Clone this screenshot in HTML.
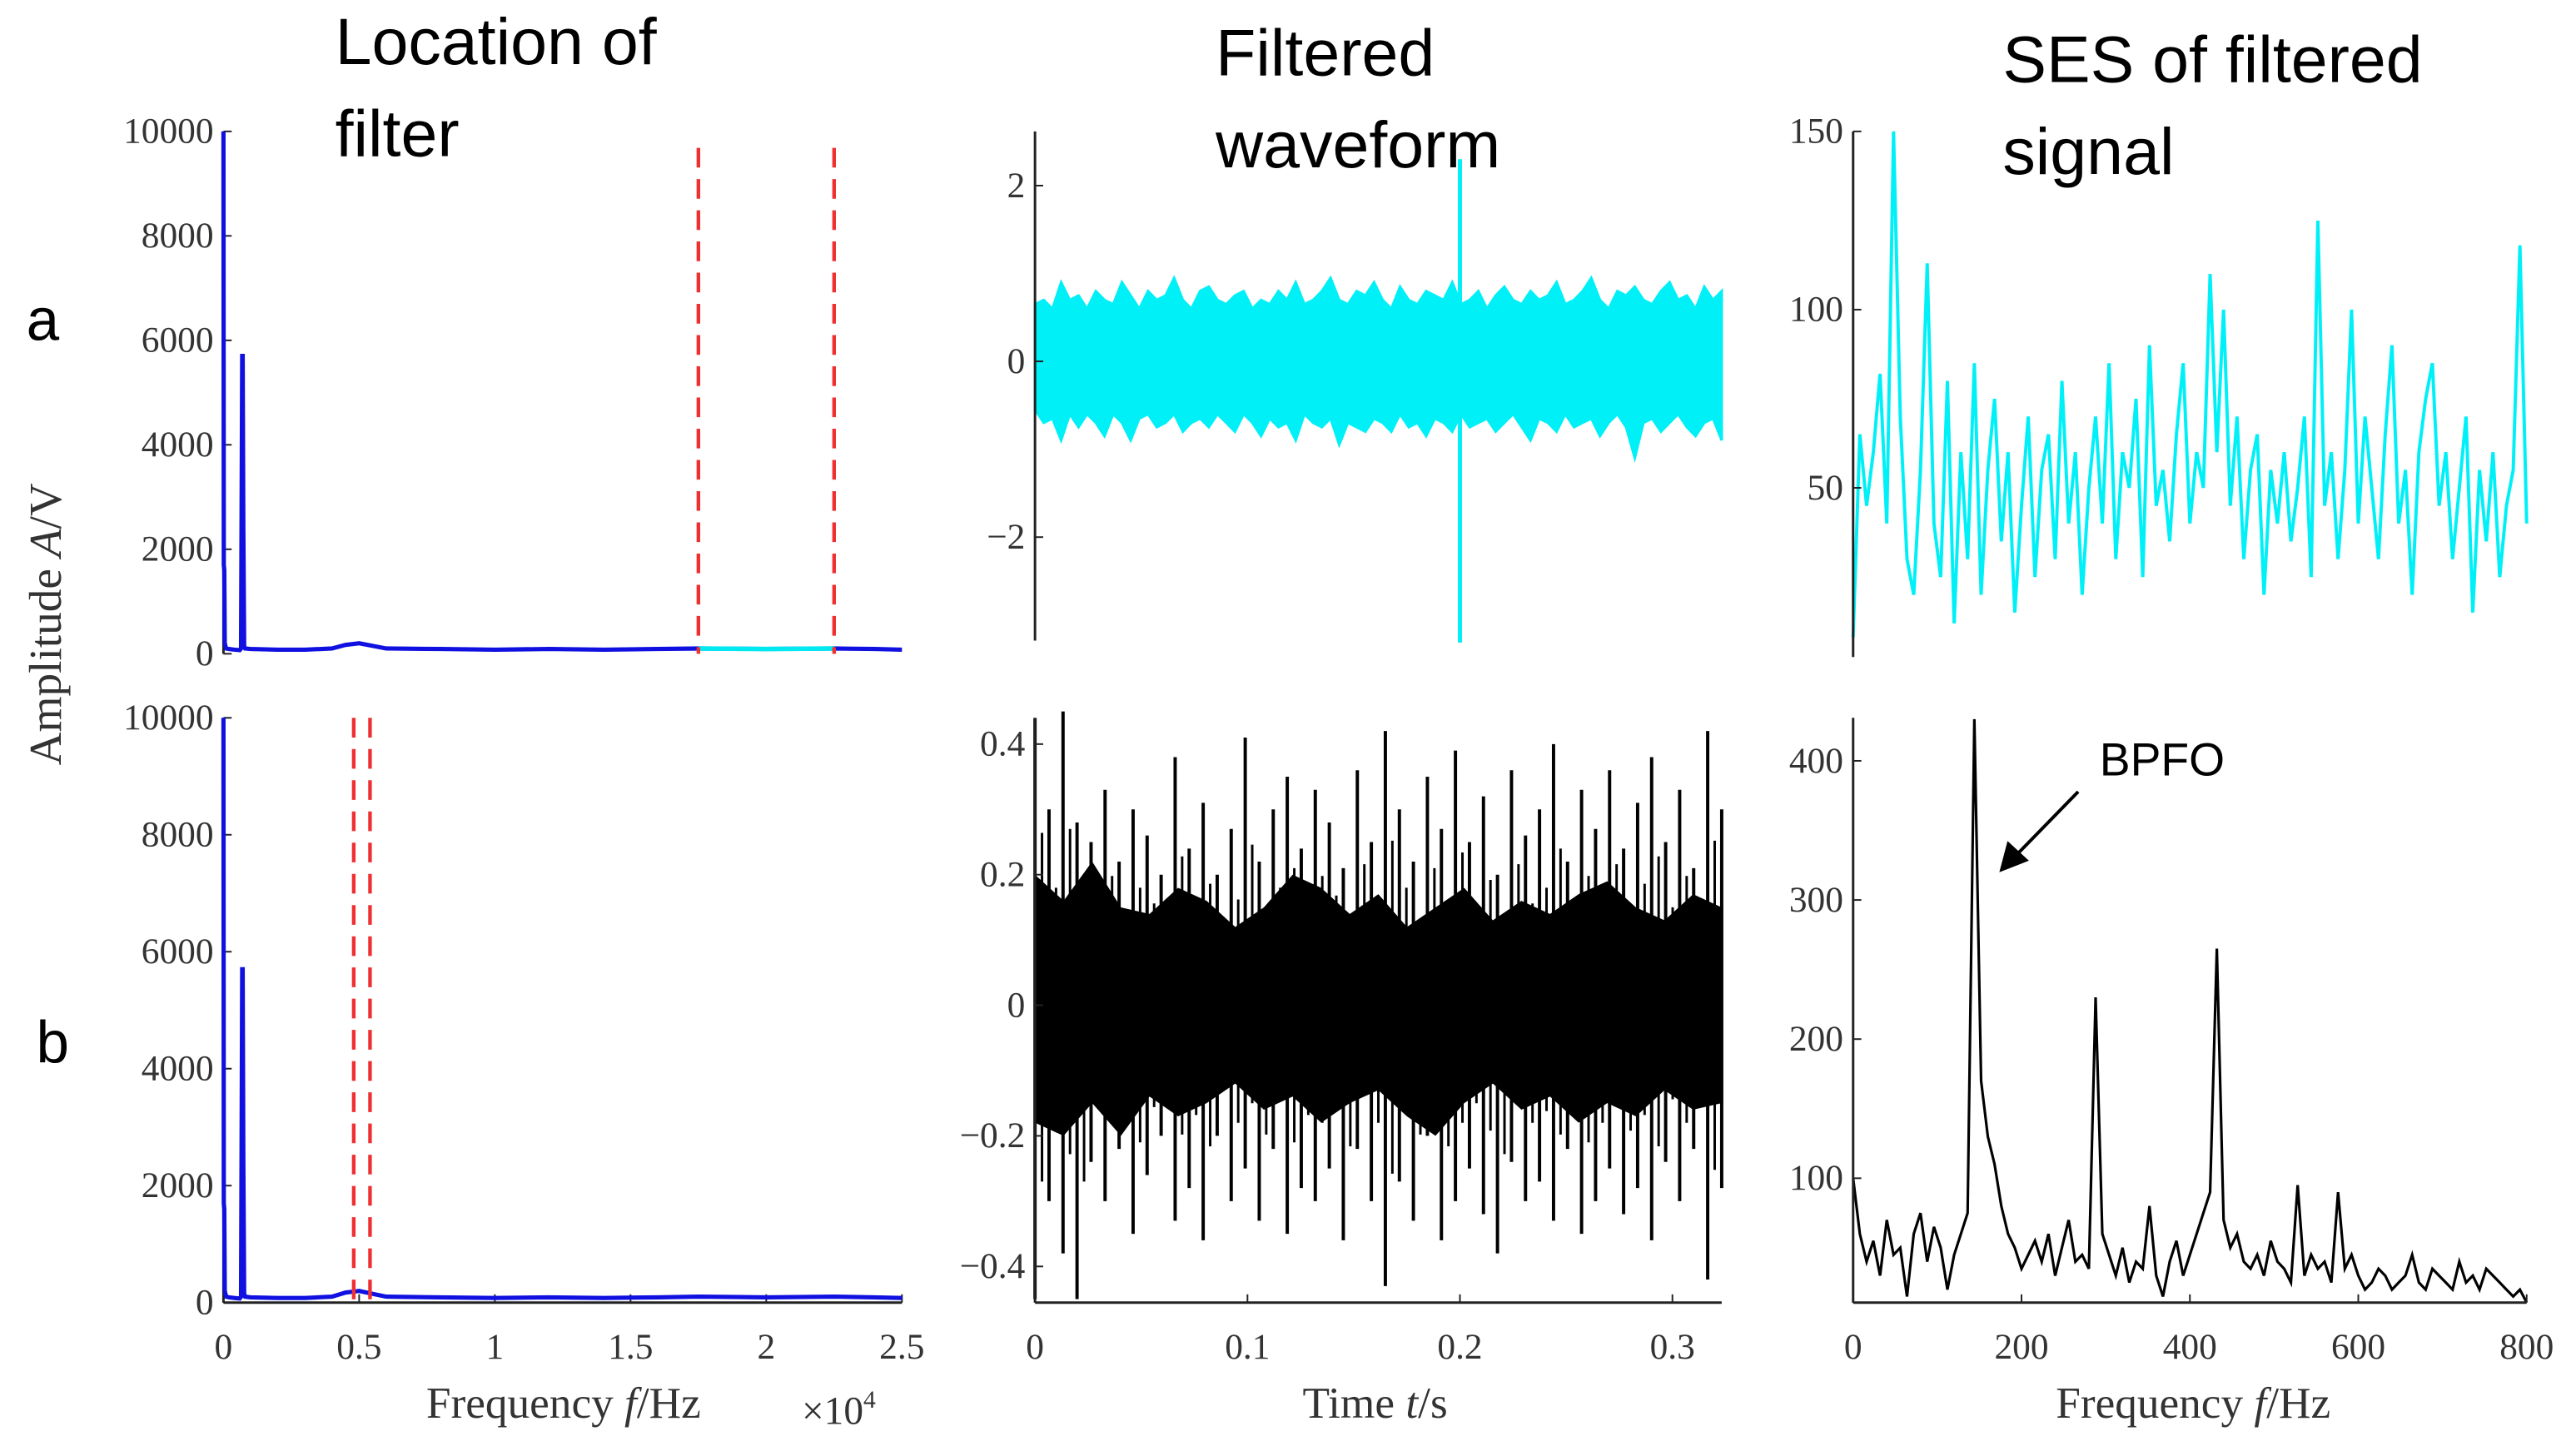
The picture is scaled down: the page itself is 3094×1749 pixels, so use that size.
<!DOCTYPE html>
<html><head><meta charset="utf-8"><style>
html,body{margin:0;padding:0;background:#fff;}
svg{display:block;}
.tk{font-family:"Liberation Serif",serif;font-size:22px;fill:#333;}
.tt{font-family:"Liberation Sans",sans-serif;font-size:40px;fill:#000;}
</style></head><body>
<svg id="fig" width="3094" height="1749" viewBox="0 0 1568 886.4" xmlns="http://www.w3.org/2000/svg">
<g id="static">
<text class="tt" x="204" y="39">Location of</text>
<text class="tt" x="204" y="95">filter</text>
<text class="tt" x="740" y="46">Filtered</text>
<text class="tt" x="740" y="102">waveform</text>
<text class="tt" x="1219" y="50">SES of filtered</text>
<text class="tt" x="1219" y="106">signal</text>
<text class="tt" x="16" y="207" style="font-size:36px">a</text>
<text class="tt" x="22" y="647" style="font-size:36px">b</text>
<text class="tk" style="font-size:28px" transform="translate(37,380) rotate(-90)" text-anchor="middle">Amplitude <tspan font-style="italic">A</tspan>/V</text>
<text class="tk" style="font-size:27px" x="343" y="863" text-anchor="middle">Frequency <tspan font-style="italic">f</tspan>/Hz</text>
<text class="tk" style="font-size:24px" x="488" y="867">×10<tspan font-size="15" dy="-10">4</tspan></text>
<text class="tk" style="font-size:27px" x="837" y="863" text-anchor="middle">Time <tspan font-style="italic">t</tspan>/s</text>
<text class="tk" style="font-size:27px" x="1335" y="863" text-anchor="middle">Frequency <tspan font-style="italic">f</tspan>/Hz</text>
<text class="tt" x="1278" y="472" style="font-size:28px">BPFO</text>
<line x1="1265" y1="482" x2="1224" y2="524" stroke="#000" stroke-width="2"/>
<polygon points="1217,531 1222,512 1235,524" fill="#000"/>
</g>
<g id="plots"></g>
</svg>
<script>
// ---- data ----
const specF=[0,15,30,50,70,100,200,400,600,650,690,710,730,760,800,1000,2000,3000,4000,4500,5000,5500,6000,8000,10000,12000,14000,16000,17500,20000,22500,24000,25000];
const specA=[10000,1700,1600,200,150,100,90,80,70,100,5700,5700,2400,150,100,90,80,80,100,170,200,150,100,90,80,90,80,90,100,90,100,90,80];
const filterA=[17500,22500];
const filterB=[4800,5400];
const specTicks=[0,0.5,1,1.5,2,2.5];
const ampTicks=[0,2000,4000,6000,8000,10000];
const cyanUp=[0.65,0.7,0.6,0.9,0.7,0.75,0.6,0.8,0.7,0.65,0.9,0.75,0.6,0.8,0.7,0.75,0.95,0.7,0.6,0.8,0.85,0.7,0.65,0.75,0.8,0.6,0.7,0.65,0.8,0.7,0.9,0.65,0.7,0.8,0.95,0.7,0.65,0.8,0.75,0.9,0.7,0.6,0.85,0.7,0.65,0.8,0.75,0.7,0.9,0.65,0.7,0.8,0.6,0.75,0.85,0.7,0.65,0.8,0.7,0.75,0.9,0.65,0.7,0.8,0.95,0.7,0.6,0.8,0.75,0.85,0.7,0.65,0.8,0.9,0.7,0.75,0.6,0.85,0.7,0.8];
const cyanDn=[-0.55,-0.7,-0.65,-0.9,-0.6,-0.75,-0.6,-0.7,-0.85,-0.6,-0.7,-0.9,-0.65,-0.6,-0.75,-0.7,-0.6,-0.8,-0.7,-0.65,-0.75,-0.6,-0.7,-0.8,-0.6,-0.7,-0.85,-0.65,-0.75,-0.7,-0.9,-0.6,-0.7,-0.75,-0.65,-0.95,-0.7,-0.75,-0.8,-0.65,-0.7,-0.8,-0.6,-0.75,-0.7,-0.85,-0.65,-0.7,-0.8,-0.6,-0.75,-0.7,-0.65,-0.8,-0.7,-0.6,-0.75,-0.9,-0.65,-0.7,-0.8,-0.6,-0.75,-0.7,-0.65,-0.85,-0.7,-0.6,-0.75,-1.1,-0.7,-0.65,-0.8,-0.7,-0.6,-0.75,-0.85,-0.7,-0.65,-0.9];
const cyanSpikeT=[0.2];
const cyanSpikeUp=[2.3];
const cyanSpikeDn=[-3.2];
const blkUp=[0.44,0.3,0.45,0.28,0.25,0.33,0.22,0.3,0.26,0.2,0.38,0.24,0.31,0.2,0.27,0.41,0.22,0.3,0.35,0.24,0.33,0.28,0.21,0.36,0.25,0.42,0.3,0.22,0.35,0.27,0.39,0.25,0.32,0.2,0.36,0.26,0.3,0.4,0.22,0.33,0.27,0.36,0.24,0.31,0.38,0.25,0.33,0.21,0.42,0.3];
const blkDn=[-0.45,-0.3,-0.38,-0.45,-0.24,-0.3,-0.22,-0.35,-0.26,-0.2,-0.33,-0.28,-0.36,-0.2,-0.3,-0.25,-0.33,-0.22,-0.35,-0.28,-0.3,-0.25,-0.36,-0.22,-0.3,-0.43,-0.27,-0.33,-0.2,-0.36,-0.3,-0.25,-0.32,-0.38,-0.24,-0.3,-0.27,-0.33,-0.22,-0.35,-0.3,-0.25,-0.32,-0.28,-0.36,-0.24,-0.3,-0.22,-0.42,-0.28];
const blkCoreUp=[0.2,0.16,0.22,0.15,0.14,0.18,0.16,0.12,0.15,0.2,0.18,0.14,0.17,0.12,0.15,0.18,0.13,0.16,0.14,0.17,0.19,0.15,0.13,0.17,0.15];
const blkCoreDn=[-0.18,-0.2,-0.15,-0.2,-0.14,-0.17,-0.15,-0.12,-0.16,-0.14,-0.18,-0.15,-0.13,-0.17,-0.2,-0.15,-0.12,-0.16,-0.14,-0.18,-0.15,-0.17,-0.13,-0.16,-0.15];
const timeTicks=[0,0.1,0.2,0.3];
const waveATicks=[-2,0,2];
const waveBTicks=[-0.4,-0.2,0,0.2,0.4];
const sesA=[8,65,45,60,82,40,150,70,30,20,55,113,40,25,80,12,60,30,85,20,55,75,35,60,15,45,70,25,55,65,30,80,40,60,20,50,70,40,85,30,60,50,75,25,90,45,55,35,65,85,40,60,50,110,60,100,45,70,30,55,65,20,55,40,60,35,50,70,25,125,45,60,30,55,100,40,70,50,30,65,90,40,55,20,60,75,85,45,60,30,50,70,15,55,35,60,25,45,55,118,40];
const sesB=[100,60,40,55,30,70,45,50,15,60,75,40,65,50,20,45,60,75,430,170,130,110,80,60,50,35,45,55,40,60,30,50,70,40,45,35,230,60,45,30,50,25,40,35,80,30,15,40,55,30,45,60,75,90,265,70,50,60,40,35,45,30,55,40,35,25,95,30,45,35,40,25,90,35,45,30,20,25,35,30,20,25,30,45,25,20,35,30,25,20,40,25,30,20,35,30,25,20,15,20,10];
const sesFTicks=[0,200,400,600,800];
const sesATicks=[50,100,150];
const sesBTicks=[100,200,300,400];

// ---- scales ----
const NS='http://www.w3.org/2000/svg';
const G=document.getElementById('plots');
const xSpec=f=>136+f*(549-136)/25000;
const ySpecA=v=>398-v*318/10000;
const ySpecB=v=>793-v*356/10000;
const xT=t=>630+t*(1018-630)/0.3;
const yWA=v=>220-v*53.5;
const yWB=v=>612-v*397.5;
const xS=f=>1128+f*(1538-1128)/800;
const ySA=v=>297-(v-50)*2.17;
const ySB=v=>802-v*0.847;
function mk(tag,attrs,parent){const e=document.createElementNS(NS,tag);for(const k in attrs)e.setAttribute(k,attrs[k]);(parent||G).appendChild(e);return e;}
function pts(xs,ys){return xs.map((x,i)=>x.toFixed(1)+','+ys[i].toFixed(1)).join(' ');}
function yAxis(x,y0,y1,ticks,yf,fmt,name){
  const l=mk('line',{x1:x,y1:y0,x2:x,y2:y1,stroke:'#222','stroke-width':1.5});
  
  
  ticks.forEach(v=>{const y=yf(v);
    mk('line',{x1:x,y1:y,x2:x+5,y2:y,stroke:'#222','stroke-width':1});
    const t=mk('text',{x:x-6,y:y+7,'text-anchor':'end',class:'tk'});t.textContent=fmt(v);
    
    });
}
function xAxis(y,x0,x1,ticks,xf,fmt,name){
  const l=mk('line',{x1:x0,y1:y,x2:x1,y2:y,stroke:'#222','stroke-width':1.5});
  
  
  ticks.forEach(v=>{const x=xf(v);
    mk('line',{x1:x,y1:y,x2:x,y2:y-5,stroke:'#222','stroke-width':1});
    const t=mk('text',{x:x,y:y+34,'text-anchor':'middle',class:'tk'});t.textContent=fmt(v);
    
    });
}
const minus=v=>String(v).replace('-','\u2212');

// ---- panel 1: spectra ----
yAxis(136,80,398,ampTicks,ySpecA,String,'spectrum-a');
yAxis(136,437,793,ampTicks,ySpecB,String,'spectrum-b');
xAxis(793,136,549,specTicks,v=>xSpec(v*10000),String,'spectrum-b');
let p=mk('polyline',{points:pts(specF.map(xSpec),specA.map(ySpecA)),fill:'none',stroke:'#1010e0','stroke-width':2.6});


const segA=specF.map((f,i)=>[f,specA[i]]).filter(d=>d[0]>=filterA[0]&&d[0]<=filterA[1]);
p=mk('polyline',{points:pts(segA.map(d=>xSpec(d[0])),segA.map(d=>ySpecA(d[1]))),fill:'none',stroke:'#00e8f0','stroke-width':2.8});


p=mk('polyline',{points:pts(specF.map(xSpec),specA.map(ySpecB)),fill:'none',stroke:'#1010e0','stroke-width':2.6});


const segB=specF.map((f,i)=>[f,specA[i]]).filter(d=>d[0]>=filterB[0]&&d[0]<=filterB[1]);
p=mk('polyline',{points:pts(segB.map(d=>xSpec(d[0])),segB.map(d=>ySpecB(d[1]))),fill:'none',stroke:'#000','stroke-width':3});


filterA.forEach(f=>{const l=mk('line',{x1:xSpec(f),y1:90,x2:xSpec(f),y2:398,stroke:'#f03030','stroke-width':2.2,'stroke-dasharray':'12,7'});
  
  });
filterB.forEach(f=>{const l=mk('line',{x1:xSpec(f),y1:437,x2:xSpec(f),y2:793,stroke:'#f03030','stroke-width':2.2,'stroke-dasharray':'12,7'});
  
  });

// ---- panel 2: waveforms ----
const tMax=0.3232;
const cx=cyanUp.map((_,i)=>i*tMax/(cyanUp.length-1));
let poly=[];
cyanUp.forEach((v,i)=>poly.push([xT(cx[i]),yWA(v)]));
for(let i=cyanDn.length-1;i>=0;i--)poly.push([xT(cx[i]),yWA(cyanDn[i])]);
p=mk('polygon',{points:poly.map(a=>a[0].toFixed(1)+','+a[1].toFixed(1)).join(' '),fill:'#00f0f8',stroke:'#00f0f8','stroke-width':1.5});


cyanSpikeT.forEach((t,i)=>{const l=mk('line',{x1:xT(t),y1:yWA(cyanSpikeUp[i]),x2:xT(t),y2:yWA(cyanSpikeDn[i]),stroke:'#00f0f8','stroke-width':2.5});
  
  });
yAxis(630,80,390,waveATicks,yWA,minus,'waveform-a');
const cu=blkCoreUp.map((_,i)=>i*tMax/(blkCoreUp.length-1));
poly=[];
blkCoreUp.forEach((v,i)=>poly.push([xT(cu[i]),yWB(v)]));
for(let i=blkCoreDn.length-1;i>=0;i--)poly.push([xT(cu[i]),yWB(blkCoreDn[i])]);
p=mk('polygon',{points:poly.map(a=>a[0].toFixed(1)+','+a[1].toFixed(1)).join(' '),fill:'#000'});


blkUp.forEach((v,i)=>{const t=i*tMax/(blkUp.length-1);
  const l=mk('line',{x1:xT(t),y1:yWB(v),x2:xT(t),y2:yWB(blkDn[i]),stroke:'#000','stroke-width':2});
  
  
  const t2=t+tMax/(blkUp.length-1)/2;
  if(t2<tMax){const l2=mk('line',{x1:xT(t2),y1:yWB(v*0.6),x2:xT(t2),y2:yWB(blkDn[i]*0.6),stroke:'#000','stroke-width':1.5});
  
  }
});
yAxis(630,437,793,waveBTicks,yWB,minus,'waveform-b');
xAxis(793,630,1048,timeTicks,xT,String,'waveform-b');

// ---- panel 3: SES ----
const stA=800/(sesA.length-1);
p=mk('polyline',{points:pts(sesA.map((_,i)=>xS(i*stA)),sesA.map(ySA)),fill:'none',stroke:'#00f0f8','stroke-width':2});


yAxis(1128,80,400,sesATicks,ySA,String,'ses-a');
const stB=800/(sesB.length-1);
p=mk('polyline',{points:pts(sesB.map((_,i)=>xS(i*stB)),sesB.map(v=>Math.min(793,ySB(v)))),fill:'none',stroke:'#000','stroke-width':1.6});


yAxis(1128,437,793,sesBTicks,ySB,String,'ses-b');
xAxis(793,1128,1538,sesFTicks,xS,String,'ses-b');
</script>
</body></html>
